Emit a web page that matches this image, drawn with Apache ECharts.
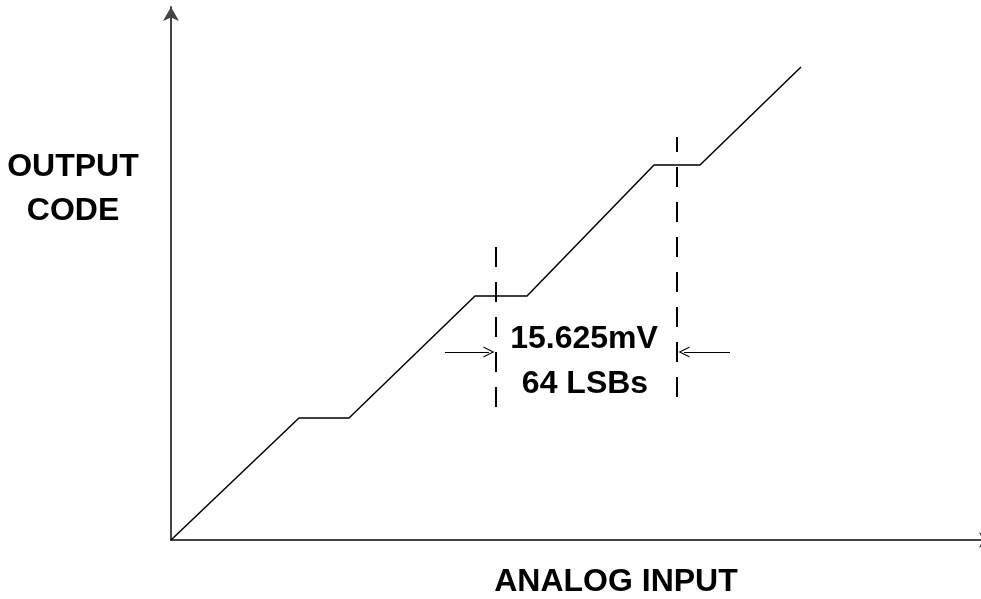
<!DOCTYPE html>
<html>
<head>
<meta charset="utf-8">
<script src="https://cdn.jsdelivr.net/npm/echarts@6/dist/echarts.min.js"></script>
<style>
    html, body {margin: 0; padding: 0; background: #fff;}
    #app {width: 981px; height: 599px;}
</style>
</head>
<body>
<div id="app"></div>
<script>
    //传递函数折线数据 (横轴: 模拟输入, 纵轴: 输出码)
    var inputVals = [0, 128, 178, 304, 356, 483, 529, 630]
    var codeVals = [0, 122, 122, 244, 244, 375, 375, 473]

    //虚线标记位置
    var dashX = [325, 506]
    var dashLow = [133, 143]
    var dashHigh = [298, 403]

    //箭头 (起点, 终点, 高度)
    var arrowFrom = [274, 559]
    var arrowTo = [318, 513]
    var arrowY = 188

    var labelLines = ['15.625mV', '64 LSBs']

    var font = 'bold 32px "Liberation Sans", Arial, sans-serif'

    var chart = echarts.init(document.getElementById('app'), null, {renderer: 'canvas'})

    var curve = inputVals.map((v, i) => [v, codeVals[i]])

    var dashSeries = dashX.map((x, i) => ({
        type: 'line',
        data: [[x, dashLow[i]], [x, dashHigh[i]]],
        symbol: 'none',
        silent: true,
        lineStyle: {color: '#000', width: 2, type: [20, 15]}
    }))

    var axisCommon = {
        type: 'value',
        min: 0,
        axisLine: {
            show: true,
            symbol: ['none', 'arrow'],
            symbolSize: [12, 14],
            lineStyle: {color: '#444', width: 2}
        },
        axisTick: {show: false},
        axisLabel: {show: false},
        splitLine: {show: false}
    }

    chart.setOption({
        animation: false,
        //x轴箭头超出画布右边界
        grid: {left: 171, top: 7, width: 822, height: 533, outerBoundsMode: 'none', containLabel: false},
        xAxis: Object.assign({}, axisCommon, {max: 822}),
        yAxis: Object.assign({}, axisCommon, {max: 533}),
        series: [
            {
                type: 'line',
                data: curve,
                symbol: 'none',
                lineStyle: {color: '#000', width: 1.5}
            }
        ].concat(dashSeries).concat([
            {
                type: 'lines',
                coordinateSystem: 'cartesian2d',
                symbol: ['none', 'path://M5,0 L10,10 L8.8,10 L5,2.2 L1.2,10 L0,10 Z'],
                symbolSize: [9, 11],
                lineStyle: {color: '#000', width: 1.2, opacity: 1},
                data: arrowFrom.map((x, i) => ({coords: [[x, arrowY], [arrowTo[i], arrowY]]}))
            }
        ]),
        graphic: [
            {type: 'text', x: 73, y: 167, style: {text: 'OUTPUT', font: font, align: 'center', verticalAlign: 'middle', fill: '#000'}},
            {type: 'text', x: 73, y: 211, style: {text: 'CODE', font: font, align: 'center', verticalAlign: 'middle', fill: '#000'}},
            {type: 'text', x: 616, y: 582, style: {text: 'ANALOG INPUT', font: font, align: 'center', verticalAlign: 'middle', fill: '#000'}},
            {type: 'text', x: 584, y: 339, style: {text: labelLines[0], font: font, align: 'center', verticalAlign: 'middle', fill: '#000'}},
            {type: 'text', x: 585, y: 384, style: {text: labelLines[1], font: font, align: 'center', verticalAlign: 'middle', fill: '#000'}}
        ]
    })
</script>
</body>
</html>
